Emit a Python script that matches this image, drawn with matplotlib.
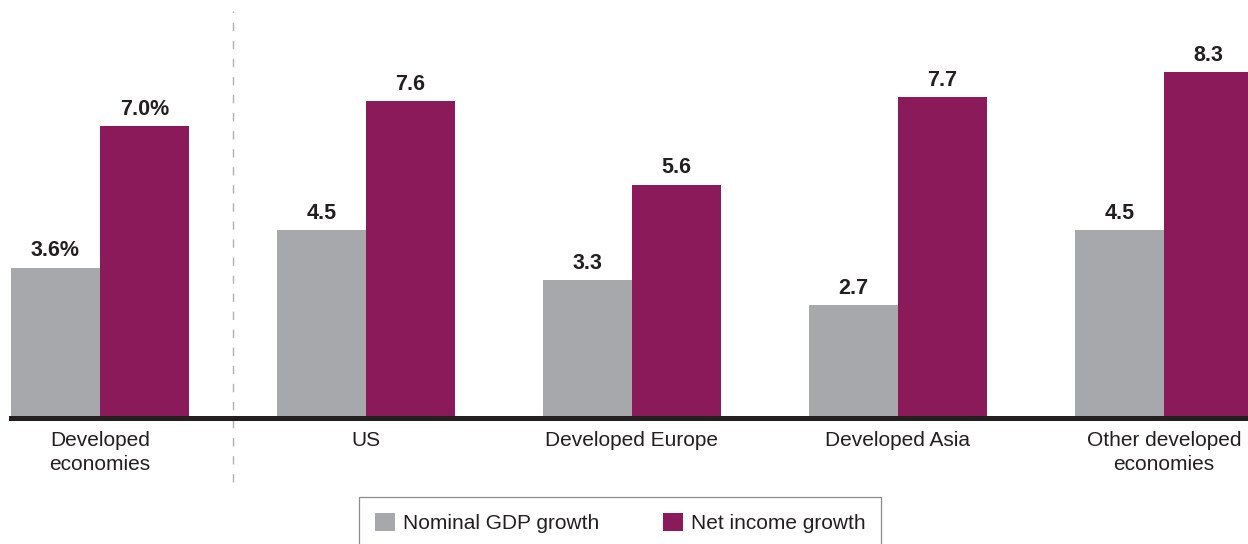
import matplotlib
matplotlib.use("Agg")
import matplotlib.pyplot as plt
import numpy as np
from matplotlib.patches import Patch

categories = ["Developed\neconomies", "US", "Developed Europe", "Developed Asia",
              "Other developed\neconomies"]
gdp_growth = [3.6, 4.5, 3.3, 2.7, 4.5]
income_growth = [7.0, 7.6, 5.6, 7.7, 8.3]
gdp_labels = ["3.6%", "4.5", "3.3", "2.7", "4.5"]
income_labels = ["7.0%", "7.6", "5.6", "7.7", "8.3"]
series_names = ["Nominal GDP growth", "Net income growth"]

GRAY = "#a7a8ab"
PURPLE = "#8a1a5a"
INK = "#231f20"

plt.rcParams["font.family"] = ["Liberation Sans", "DejaVu Sans"]

W, H = 1248, 544
fig = plt.figure(figsize=(W / 100, H / 100), dpi=100)
ax = fig.add_axes([11 / W, 126.5 / H, 1 - 11 / W, 416 / H])

x = np.arange(len(categories))
w = 0.3346
b1 = ax.bar(x - w / 2, gdp_growth, w, color=GRAY, linewidth=0)
b2 = ax.bar(x + w / 2, income_growth, w, color=PURPLE, linewidth=0)

for bars, labels in ((b1, gdp_labels), (b2, income_labels)):
    for rect, lab in zip(bars, labels):
        ax.annotate(lab, (rect.get_x() + rect.get_width() / 2, rect.get_height()),
                    xytext=(0, 4.5), textcoords="offset points", ha="center",
                    va="bottom", fontsize=15.5, fontweight="bold", color=INK)

ax.set_xlim(-w, 4.316)
ax.set_ylim(0, 10)
ax.set_yticks([])
ax.set_xticks(x)
ax.set_xticklabels(categories, fontsize=15, color=INK, linespacing=1.3)
ax.tick_params(axis="x", length=0, pad=10)
for s in ("top", "right", "left"):
    ax.spines[s].set_visible(False)
ax.spines["bottom"].set_linewidth(3.6)
ax.spines["bottom"].set_color(INK)

# separator between the aggregate and the regional breakdown
ax.plot([0.5, 0.5], [-1.55, 9.77], ls=(0, (6, 7)), color="#b0b0b0", lw=1.0,
        clip_on=False, zorder=0)

handles = [Patch(facecolor=GRAY, edgecolor="none"), Patch(facecolor=PURPLE, edgecolor="none")]
leg = fig.legend(handles, series_names, loc="upper left",
                 bbox_to_anchor=(359 / W, 1 - 497 / H), ncol=2, frameon=True,
                 fancybox=False, fontsize=15, handlelength=1.0, handleheight=1.0,
                 handletextpad=0.35, columnspacing=3.05, borderpad=0.75,
                 borderaxespad=0)
leg.get_frame().set_edgecolor("#707070")
leg.get_frame().set_linewidth(0.9)
for t in leg.get_texts():
    t.set_color(INK)

fig.savefig("out.png", dpi=100)
